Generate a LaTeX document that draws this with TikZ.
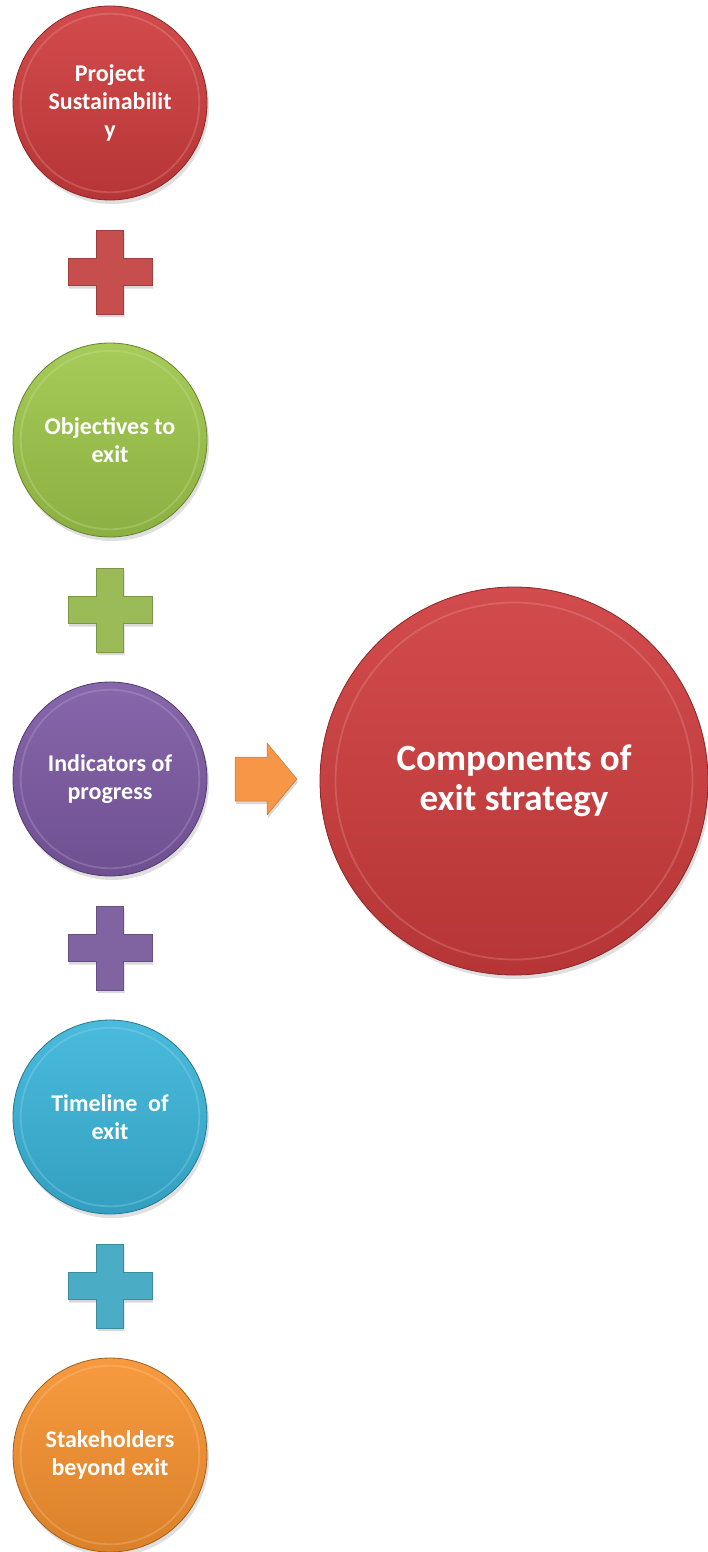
\documentclass[tikz,border=0pt]{standalone}
\usepackage{fontspec}
\setmainfont{Carlito}
\usetikzlibrary{shadows,calc}

\definecolor{sustred}{HTML}{CF3C3D}
\definecolor{objgreen}{HTML}{9FC74A}
\definecolor{indpurple}{HTML}{7D5AA4}
\definecolor{timecyan}{HTML}{3AB5DA}
\definecolor{stakeorange}{HTML}{F7922F}
\definecolor{plusred}{HTML}{C64F4E}
\definecolor{plusgreen}{HTML}{9BBB59}
\definecolor{pluspurple}{HTML}{8064A2}
\definecolor{pluscyan}{HTML}{4BACC6}
\definecolor{arroworange}{HTML}{F79646}

\begin{document}
\begin{tikzpicture}[
			x=1pt, y=-1pt,
			ball/.style = {circle, inner sep=0pt, align=center, text=white,
				top color=#1!92!white, bottom color=#1!88!black,
				draw=#1!65!black, line width=0.8pt,
				drop shadow={opacity=0.25, shadow xshift=2pt, shadow yshift=-4pt},
				path picture={
					\draw[#1!50!white, opacity=0.3, line width=1.8pt]
						let \p1 = (path picture bounding box.east),
						    \p2 = (path picture bounding box.center),
						    \n1 = {0.92*(\x1-\x2)} in
						(\p2) circle[radius=\n1];
				}},
			small ball/.style = {ball=#1, minimum size=194pt,
				font=\fontsize{24}{28}\selectfont\bfseries},
			big ball/.style   = {ball=#1, minimum size=388pt,
				font=\fontsize{37}{40}\selectfont\bfseries},
			plusmark/.pic = {
				\fill[pic actions, drop shadow={opacity=0.3, shadow xshift=1pt, shadow yshift=-3pt}]
					(-13.5,-42) -- (13.5,-42) -- (13.5,-13.5) -- (42,-13.5) -- (42,13.5)
					-- (13.5,13.5) -- (13.5,42) -- (-13.5,42) -- (-13.5,13.5) -- (-42,13.5)
					-- (-42,-13.5) -- (-13.5,-13.5) -- cycle;
			}
			]
			\useasboundingbox (0,0) rectangle (707,1552);

			%--- nodes ---
			\node[small ball=sustred]     (sust)  at (110,103)  {Project\\Sustainabilit\\y};
			\node[small ball=objgreen]    (obj)   at (110,440)  {Objectives to\\exit};
			\node[small ball=indpurple]   (ind)   at (110,779)  {Indicators of\\progress};
			\node[small ball=timecyan]    (time)  at (110,1117) {Timeline~ of\\exit};
			\node[small ball=stakeorange] (stake) at (110,1455) {Stakeholders\\beyond exit};

			\node[big ball=sustred] (comp) at (514,781) {Components of\\exit strategy};

			%--- plus signs ---
			\pic[fill=plusred, draw=plusred!80!black]       at (110,272)  {plusmark};
			\pic[fill=plusgreen, draw=plusgreen!80!black]   at (110,610)  {plusmark};
			\pic[fill=pluspurple, draw=pluspurple!80!black] at (110,948)  {plusmark};
			\pic[fill=pluscyan, draw=pluscyan!80!black]     at (110,1286) {plusmark};

			%--- arrow ---
			\fill[arroworange, draw=arroworange!80!black, line width=0.5pt,
				drop shadow={opacity=0.3, shadow xshift=1pt, shadow yshift=-3pt}]
				(235,757) -- (267,757) -- (267,743) -- (297,779) -- (267,815)
				-- (267,801) -- (235,801) -- cycle;
		\end{tikzpicture}
\end{document}
